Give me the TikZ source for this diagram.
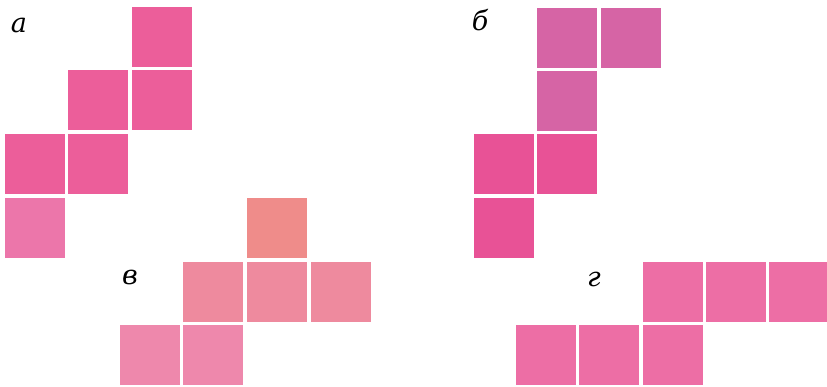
\documentclass[tikz,border=0pt]{standalone}
\usepackage{fontspec}
\setmainfont{DejaVu Serif}
\definecolor{pinkA}{RGB}{236,94,154}
\definecolor{pinkAl}{RGB}{236,118,170}
\definecolor{pinkB}{RGB}{214,100,165}
\definecolor{pinkBl}{RGB}{232,82,150}
\definecolor{pinkC}{RGB}{239,140,138}
\definecolor{pinkCm}{RGB}{238,138,158}
\definecolor{pinkCl}{RGB}{238,136,172}
\definecolor{pinkD}{RGB}{237,110,165}
\begin{document}
\begin{tikzpicture}[x=1pt, y=-1pt,
  face/.style={minimum size=60pt, inner sep=0pt, draw=none},
  tag/.style={font=\fontsize{27}{27}\selectfont\itshape, inner sep=0pt}]
\useasboundingbox[fill=white] (0,0) rectangle (827,386);
% а
\node[face, fill=pinkA] (a1) at (162,37) {};
\node[face, fill=pinkA] (a2) at (98,100) {};
\node[face, fill=pinkA] (a3) at (162,100) {};
\node[face, fill=pinkA] (a4) at (35,164) {};
\node[face, fill=pinkA] (a5) at (98,164) {};
\node[face, fill=pinkAl] (a6) at (35,228) {};
\node[tag] (la) at (19,25) {а};
% б
\node[face, fill=pinkB] (b1) at (567,38) {};
\node[face, fill=pinkB] (b2) at (631,38) {};
\node[face, fill=pinkB] (b3) at (567,101) {};
\node[face, fill=pinkBl] (b4) at (504,164) {};
\node[face, fill=pinkBl] (b5) at (567,164) {};
\node[face, fill=pinkBl] (b6) at (504,228) {};
\node[tag] (lb) at (480,20) {б};
% в
\node[face, fill=pinkC] (c1) at (277,228) {};
\node[face, fill=pinkCm] (c2) at (213,292) {};
\node[face, fill=pinkCm] (c3) at (277,292) {};
\node[face, fill=pinkCm] (c4) at (341,292) {};
\node[face, fill=pinkCl] (c5) at (150,355) {};
\node[face, fill=pinkCl] (c6) at (213,355) {};
\node[tag] (lc) at (130,277) {в};
% г
\node[face, fill=pinkD] (d1) at (673,292) {};
\node[face, fill=pinkD] (d2) at (736,292) {};
\node[face, fill=pinkD] (d3) at (799,292) {};
\node[face, fill=pinkD] (d4) at (546,355) {};
\node[face, fill=pinkD] (d5) at (609,355) {};
\node[face, fill=pinkD] (d6) at (673,355) {};
\node[tag] (ld) at (594,279) {г};
\end{tikzpicture}
\end{document}
